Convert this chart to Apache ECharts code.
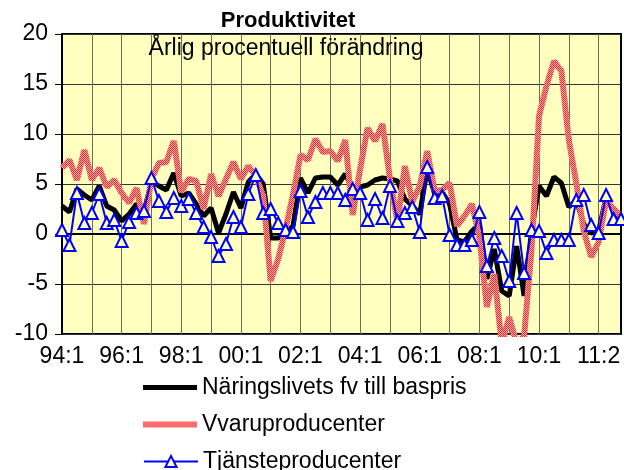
<!DOCTYPE html>
<html>
<head>
<meta charset="utf-8">
<script src="https://cdn.jsdelivr.net/npm/echarts@6/dist/echarts.min.js"></script>
<style>
  html, body { margin: 0; padding: 0; background: #fff; }
  #chart { width: 624px; height: 470px; }
</style>
</head>
<body>
<div id="chart"></div>
<script>
// Kvartal från 94:1, en punkt per kvartal
const tickLabels = ['94:1', '96:1', '98:1', '00:1', '02:1', '04:1', '06:1', '08:1', '10:1', '11:2'];

const naringsliv = [
  2.8, 2.2, 4.5, 3.9, 3.4, 4.8, 2.8, 2.4, 1.3, 2.0, 3.0, 2.2, 5.3, 4.8, 4.4, 6.1,
  3.8, 4.1, 3.0, 1.8, 2.6, 0.1, 2.0, 4.2, 2.6, 5.2, 6.0, 5.0, -0.4, -0.4, 0.1, 0.8,
  5.6, 4.1, 5.6, 5.7, 5.7, 4.9, 6.0, 4.5, 4.7, 4.9, 5.4, 5.6, 5.5, 5.3, 3.5, 2.8,
  2.0, 6.5, 4.0, 4.2, 3.0, -0.6, -0.8, 0.3, 1.0, -4.5, -1.5, -5.7, -6.2, -1.2,
  -6.2, 0.3, 4.8, 3.8, 5.7, 5.1, 2.7, 3.4, 1.0, 0.1, 0.3, 3.7, 2.2, 1.5
];

const varuproducenter = [
  6.6, 7.4, 5.4, 8.4, 5.4, 6.6, 4.7, 5.4, 4.1, 3.1, 4.6, 1.0, 5.5, 7.1, 7.2, 9.3,
  4.2, 5.5, 5.3, 2.5, 6.0, 3.8, 5.5, 7.2, 5.5, 6.8, 5.8, 3.8, -4.7, -2.5, 0.5, 4.0,
  7.9, 7.4, 9.5, 8.2, 8.3, 7.3, 9.4, 1.9, 6.5, 10.6, 9.3, 11.0, 5.5, 1.2, 6.8, 3.2,
  4.8, 8.3, 4.3, 4.4, 5.1, 0.8, 1.8, 3.0, -0.3, -7.3, -4.0, -11.0, -8.3, -11.0,
  -10.2, -1.5, 11.8, 14.8, 17.3, 16.3, 9.4, 5.1, 0.3, -2.3, -0.8, 3.4, 2.5, 1.8
];

const tjansteproducenter = [
  0.4, -1.1, 4.1, 1.1, 2.1, 4.0, 1.1, 1.4, -0.7, 1.2, 2.1, 2.3, 5.6, 3.3, 2.2, 3.6,
  2.8, 3.5, 2.1, 0.7, -0.3, -2.2, -1.0, 1.7, 0.7, 4.0, 5.9, 2.1, 2.5, 1.1, 0.4, 0.2,
  4.3, 1.7, 3.2, 4.1, 4.1, 4.1, 3.4, 4.5, 4.1, 1.4, 3.5, 1.6, 4.8, 1.3, 2.1, 2.7,
  0.2, 6.7, 3.6, 3.8, -0.1, -1.1, -1.1, -0.6, 2.2, -3.2, -0.4, -2.2, -4.7, 2.1,
  -3.9, 0.4, 0.3, -1.9, -0.6, -0.6, -0.6, 3.4, 3.9, 0.9, 0.1, 3.9, 1.5, 1.5
];

const seriesNames = ['Näringslivets fv till baspris', 'Vvaruproducenter', 'Tjänsteproducenter'];

const quarters = naringsliv.map((_, i) => (94 + Math.floor(i / 4)) % 100 + ':' + (i % 4 + 1));

// rutig röd/rosa textur för varuproducentlinjen
function makePattern() {
  const c = document.createElement('canvas');
  c.width = 2;
  c.height = 2;
  const ctx = c.getContext('2d');
  ctx.fillStyle = '#FFB4B4';
  ctx.fillRect(0, 0, 2, 2);
  ctx.fillStyle = '#FF2424';
  ctx.fillRect(0, 0, 1, 1);
  ctx.fillRect(1, 1, 1, 1);
  return c;
}

const redPattern = { image: makePattern(), repeat: 'repeat' };
const font = 'Liberation Sans, Arial, sans-serif';
const legendText = { fontFamily: font, fontSize: 23, color: '#000' };

const chart = echarts.init(document.getElementById('chart'));

chart.setOption({
  animation: false,
  title: [
    {
      text: 'Produktivitet',
      left: 283,
      top: 5,
      textAlign: 'center',
      textStyle: { fontFamily: font, fontSize: 22, fontWeight: 'bold', color: '#000' }
    },
    {
      text: 'Årlig procentuell förändring',
      left: 281,
      top: 32,
      textAlign: 'center',
      textStyle: { fontFamily: font, fontSize: 23, fontWeight: 'normal', color: '#000' }
    }
  ],
  // en legend per rad så att de staplas och den sista klipps av nederkanten
  legend: [
    {
      data: [{ name: seriesNames[0], icon: 'rect' }],
      left: 143,
      top: 376,
      padding: 0,
      itemWidth: 54,
      itemHeight: 5,
      itemStyle: { color: '#000' },
      textStyle: legendText
    },
    {
      data: [{ name: seriesNames[1], icon: 'rect' }],
      left: 143,
      top: 413,
      padding: 0,
      itemWidth: 54,
      itemHeight: 6,
      itemStyle: { color: redPattern },
      textStyle: legendText
    },
    {
      data: [seriesNames[2]],
      left: 143,
      top: 450,
      padding: 0,
      itemWidth: 54,
      itemHeight: 14,
      textStyle: legendText
    }
  ],
  grid: {
    left: 62,
    right: 3,
    top: 34,
    bottom: 136,
    show: true,
    backgroundColor: '#FFFFC0',
    borderColor: '#000',
    borderWidth: 2
  },
  xAxis: {
    type: 'category',
    data: quarters,
    boundaryGap: false,
    axisLine: { lineStyle: { color: '#000', width: 2 } },
    axisTick: { show: false },
    axisLabel: {
      interval: 7,
      margin: 11,
      fontFamily: font,
      fontSize: 23,
      color: '#000',
      formatter: (v, i) => tickLabels[i / 8]
    },
    splitLine: { show: true, interval: 3, lineStyle: { color: '#6e6e58', width: 1 } }
  },
  yAxis: {
    type: 'value',
    min: -10,
    max: 20,
    interval: 5,
    axisLine: { show: true, lineStyle: { color: '#000', width: 2 } },
    axisTick: { show: true, length: 7, lineStyle: { color: '#000' } },
    axisLabel: { margin: 14, fontFamily: font, fontSize: 23, color: '#000' },
    splitLine: { lineStyle: { color: '#333', width: 1 } }
  },
  series: [
    {
      name: seriesNames[0],
      type: 'line',
      data: naringsliv,
      symbol: 'none',
      lineStyle: { color: '#000', width: 5 },
      itemStyle: { color: '#000' }
    },
    {
      name: seriesNames[1],
      type: 'line',
      data: varuproducenter,
      symbol: 'none',
      lineStyle: { color: redPattern, width: 6 },
      itemStyle: { color: '#FF8080' }
    },
    {
      name: seriesNames[2],
      type: 'line',
      data: tjansteproducenter,
      symbol: 'triangle',
      symbolSize: 12,
      showAllSymbol: true,
      lineStyle: { color: '#0000FF', width: 2 },
      itemStyle: { color: '#FFFFC0', borderColor: '#0000FF', borderWidth: 2 }
    }
  ]
});
</script>
</body>
</html>
